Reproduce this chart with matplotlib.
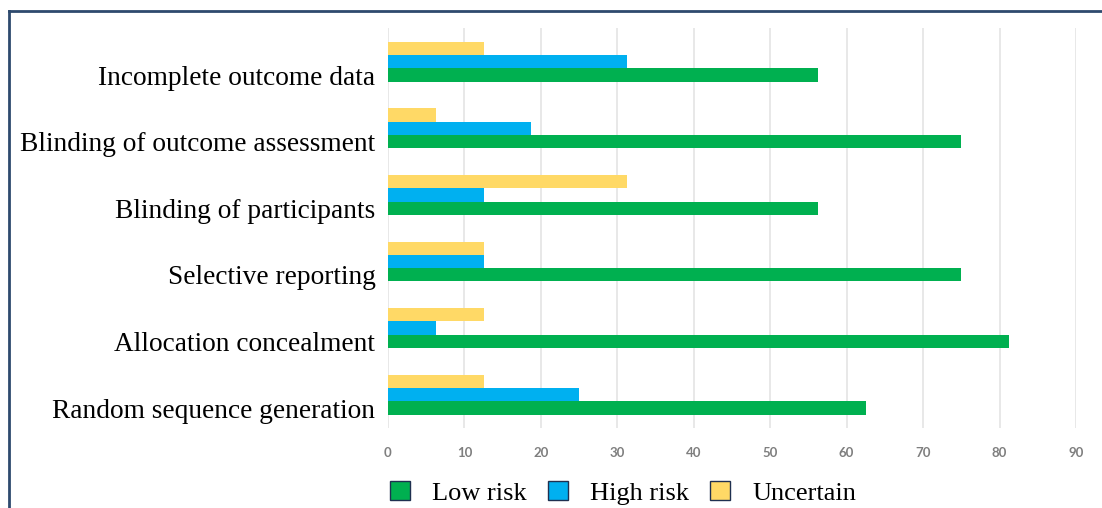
import matplotlib
matplotlib.use("Agg")
import matplotlib.pyplot as plt
from matplotlib.patches import Patch
from matplotlib.lines import Line2D
import numpy as np

# Risk-of-bias domains, bottom to top
domains = [
    "Random sequence generation",
    "Allocation concealment",
    "Selective reporting",
    "Blinding of participants",
    "Blinding of outcome assessment",
    "Incomplete outcome data",
]
low_risk = [62.5, 81.25, 75.0, 56.25, 75.0, 56.25]
high_risk = [25.0, 6.25, 12.5, 12.5, 18.75, 31.25]
uncertain = [12.5, 12.5, 12.5, 31.25, 6.25, 12.5]
series_names = ["Low risk", "High risk", "Uncertain"]
x_ticks = [0, 10, 20, 30, 40, 50, 60, 70, 80, 90]

GREEN = "#00B050"
BLUE = "#00B0F0"
YELLOW = "#FFD966"
FRAME = "#2E4A6E"

W, H = 1102, 508
fig = plt.figure(figsize=(W / 100, H / 100), dpi=100)
ax = fig.add_axes([388 / W, 1 - 428 / H, (1076 - 388) / W, 400 / H])

y = np.arange(len(domains))
bh = 0.2
ax.barh(y, low_risk, height=bh, color=GREEN, zorder=3)
ax.barh(y + bh, high_risk, height=bh, color=BLUE, zorder=3)
ax.barh(y + 2 * bh, uncertain, height=bh, color=YELLOW, zorder=3)

ax.set_xlim(0, 90)
ax.set_ylim(-0.3, 5.706)
ax.set_xticks(x_ticks)
ax.set_xticklabels([str(t) for t in x_ticks], fontfamily="Lato",
                   fontweight="bold", fontsize=9.5, color="#7F7F7F")
ax.tick_params(axis="x", length=0, pad=14)
ax.set_yticks(y)
ax.set_yticklabels(domains, fontfamily="Liberation Serif", fontsize=19.7,
                   color="black")
ax.tick_params(axis="y", length=0, pad=9)
ax.grid(axis="x", color="#E6E6E6", linewidth=1.3, zorder=0)
for s in ax.spines.values():
    s.set_visible(False)

handles = [Patch(facecolor=c, edgecolor="#1F3050", linewidth=1.0)
           for c in (GREEN, BLUE, YELLOW)]
fig.legend(handles, series_names, loc="center",
           bbox_to_anchor=(623 / W, 1 - 493 / H), ncol=3, frameon=False,
           prop={"family": "Liberation Serif", "size": 19},
           handlelength=0.75, handleheight=0.7, handletextpad=0.85,
           columnspacing=0.8, borderpad=0)

# outer frame (top and left edges)
fig.add_artist(Line2D([9 / W, 1], [1 - 11 / H, 1 - 11 / H],
                      transform=fig.transFigure, color=FRAME, linewidth=2))
fig.add_artist(Line2D([9 / W, 9 / W], [0, 1 - 11 / H],
                      transform=fig.transFigure, color=FRAME, linewidth=2))

fig.savefig("out.png", dpi=100, facecolor="white")
